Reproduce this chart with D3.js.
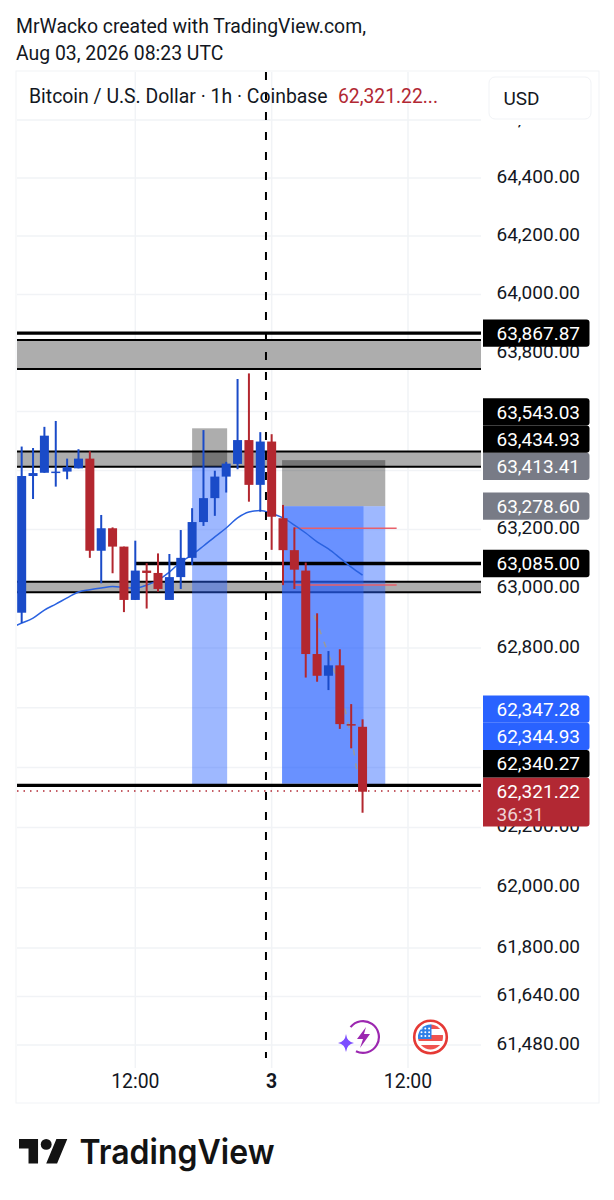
<!DOCTYPE html>
<html><head><meta charset="utf-8">
<script src="https://cdn.jsdelivr.net/npm/d3@7"></script>
<style>html,body{margin:0;padding:0;background:#fff}svg{display:block;font-family:Roboto,sans-serif}</style>
</head><body><svg id="c" width="614" height="1200"></svg>
<script>
const titleLines=["MrWacko created with TradingView.com,","Aug 03, 2026 08:23 UTC"];
const legendName="Bitcoin / U.S. Dollar · 1h · Coinbase";
const legendPrice="62,321.22...";
const currency="USD";
const firstCandle="2026-08-02T02:00:00Z";
const opens =[62919,63381,63392,63396,63396,63407,63440,63128,63204,63142,62962,63061,63053,62962,63039,63104,63225,63306,63379,63422,63503,63351,63498,63238,63130,63061,62780,62707,62742,62545,62536];
const highs =[63481,63476,63548,63568,63440,63472,63465,63249,63207,63142,63162,63086,63119,63117,63198,63272,63537,63399,63429,63711,63730,63530,63523,63283,63207,63088,62917,62790,62796,62612,62561];
const lows  =[62884,63303,63392,63345,63370,63407,63104,63018,63052,62921,62962,62933,62990,62984,62999,63080,63212,63246,63325,63404,63294,63260,63131,63012,62999,62701,62687,62659,62529,62464,62249];
const closes=[63381,63391,63518,63396,63411,63440,63128,63204,63142,62962,63061,63053,62999,63039,63104,63225,63306,63379,63423,63503,63351,63498,63243,63130,63064,62780,62707,62742,62545,62541,62319];
const emaStart="2026-08-02T01:00:00Z";
const emaValues=[62868,62884,62901,62928,62948,62969,62989,62996,63002,63007,63004,63002,63012,63029,63056,63090,63114,63144,63175,63205,63239,63259,63264,63254,63239,63215,63188,63158,63134,63104,63073,63046];
const hLines=[63867.87,62340.27];
const midLine={from:"2026-08-02T12:00:00Z",value:63085};
const bands=[[63844,63745],[63464,63412],[63023,62988]];
const priceTicks=[64600,64400,64200,64000,63800,63600,63400,63200,63000,62800,62600,62400,62200,62000,61800,61640,61480];
const timeTicks=[["2026-08-02T12:00:00Z","12:00",400],["2026-08-03T00:00:00Z","3",700],["2026-08-03T12:00:00Z","12:00",400]];
const crossTime="2026-08-02T23:30:00Z";
const grayBoxes=[{t0:"2026-08-02T17:00:00Z",t1:"2026-08-02T20:05:00Z",top:63543.03,bottom:63413.41},
                 {t0:"2026-08-03T00:55:00Z",t1:"2026-08-03T10:00:00Z",top:63434.93,bottom:63278.6}];
const blueBoxes=[{t0:"2026-08-02T17:00:00Z",t1:"2026-08-02T20:05:00Z",top:63413.41,bottom:62340.27},
                 {t0:"2026-08-03T00:55:00Z",t1:"2026-08-03T10:00:00Z",top:63278.6,bottom:62344.93},
                 {t0:"2026-08-03T00:55:00Z",t1:"2026-08-03T08:05:00Z",top:63278.6,bottom:62347.28}];
const redLines=[{t0:"2026-08-03T02:00:00Z",t1:"2026-08-03T11:00:00Z",v:63204},{t0:"2026-08-03T02:00:00Z",t1:"2026-08-03T11:00:00Z",v:63012}];
const trendTimes=["2026-08-03T03:45:00Z","2026-08-03T05:00:00Z","2026-08-03T06:05:00Z","2026-08-03T07:10:00Z","2026-08-03T07:30:00Z"];
const trendValues=[62910,62780,62660,62470,62390];
const priceLabels=[
 {v:63867.87,c:"#000000"},{v:63543.03,c:"#000000"},{v:63434.93,c:"#000000"},{v:63413.41,c:"#787b86"},
 {v:63278.60,c:"#787b86"},{v:63085.00,c:"#000000"},{v:62347.28,c:"#2962ff"},{v:62344.93,c:"#2962ff"},
 {v:62340.27,c:"#000000"},{v:62321.22,c:"#b22833",sub:"36:31"}];
const lastPrice=62321.22;

const svg=d3.select("#c");
const y=d3.scaleLog().domain([61480,64400]).range([1045,178]);
const x=d3.scaleUtc().domain([new Date("2026-08-02T12:00:00Z"),new Date("2026-08-03T12:00:00Z")]).range([135.3,408]);
const hour=3600000, t0=+new Date(firstCandle);
const L=17,R=481,T=72,B=1068;
const fmt=d3.format(",.2f");
const up="#1a4bc8",down="#b3272f";
const gridC="#f1f3f6";
const candles=opens.map((o,i)=>({t:new Date(t0+i*hour),o,h:highs[i],l:lows[i],c:closes[i]}));
const D=s=>new Date(s);

svg.append("defs").append("clipPath").attr("id","plot").append("rect").attr("x",L).attr("y",T).attr("width",R-L).attr("height",B-T);
svg.selectAll(".title").data(titleLines).join("text").attr("x",16).attr("y",(d,i)=>33+i*26.5).attr("font-size",19.4).attr("fill","#131722").text(d=>d);
svg.append("rect").attr("x",16).attr("y",71).attr("width",583).attr("height",1032).attr("fill","none").attr("stroke",gridC);

const plot=svg.append("g").attr("clip-path","url(#plot)");
plot.selectAll(".gh").data(priceTicks).join("line").attr("x1",L).attr("x2",R).attr("y1",d=>y(d)).attr("y2",d=>y(d)).attr("stroke",gridC).attr("stroke-width",1.5);
plot.selectAll(".gv").data(timeTicks).join("line").attr("x1",d=>x(D(d[0]))).attr("x2",d=>x(D(d[0]))).attr("y1",T).attr("y2",B).attr("stroke",gridC).attr("stroke-width",1.5);
bands.forEach(b=>{
 plot.append("rect").attr("x",L).attr("width",R-L).attr("y",y(b[0])).attr("height",y(b[1])-y(b[0])).attr("fill","#adadad");
 b.forEach(v=>plot.append("line").attr("x1",L).attr("x2",R).attr("y1",y(v)).attr("y2",y(v)).attr("stroke","#000").attr("stroke-width",2));
});
plot.selectAll(".gb").data(grayBoxes).join("rect").attr("x",d=>x(D(d.t0))).attr("width",d=>x(D(d.t1))-x(D(d.t0))).attr("y",d=>y(d.top)).attr("height",d=>y(d.bottom)-y(d.top)).attr("fill","rgba(0,0,0,.32)");
plot.selectAll(".bb").data(blueBoxes).join("rect").attr("x",d=>x(D(d.t0))).attr("width",d=>x(D(d.t1))-x(D(d.t0))).attr("y",d=>y(d.top)).attr("height",d=>y(d.bottom)-y(d.top)).attr("fill","rgba(41,98,255,.45)");
hLines.forEach(v=>plot.append("line").attr("x1",L).attr("x2",R).attr("y1",y(v)).attr("y2",y(v)).attr("stroke","#000").attr("stroke-width",3.2));
plot.append("line").attr("x1",x(D(midLine.from))).attr("x2",R).attr("y1",y(midLine.value)).attr("y2",y(midLine.value)).attr("stroke","#000").attr("stroke-width",3.4);
plot.selectAll(".rl").data(redLines).join("line").attr("x1",d=>x(D(d.t0))).attr("x2",d=>x(D(d.t1))).attr("y1",d=>y(d.v)).attr("y2",d=>y(d.v)).attr("stroke","#e8606a").attr("stroke-width",1.5);
plot.append("line").attr("x1",L).attr("x2",R).attr("y1",y(lastPrice)).attr("y2",y(lastPrice)).attr("stroke","#b22833").attr("stroke-width",1.5).attr("stroke-dasharray","1.5 5");
const tl=trendTimes.map((t,i)=>[x(D(t)),y(trendValues[i])]);
plot.append("path").attr("d",d3.line()(tl)).attr("fill","none").attr("stroke","#9a9a9a").attr("stroke-width",1.5).attr("stroke-dasharray","6 8");
plot.append("path").datum(emaValues).attr("d",d3.line().x((d,i)=>x(new Date(+new Date(emaStart)+i*hour))).y(d=>y(d)).curve(d3.curveMonotoneX)).attr("fill","none").attr("stroke","#2a62e0").attr("stroke-width",1.5);
const cg=plot.selectAll(".cd").data(candles).join("g");
cg.append("line").attr("x1",d=>x(d.t)).attr("x2",d=>x(d.t)).attr("y1",d=>y(d.h)).attr("y2",d=>y(d.l)).attr("stroke",d=>d.c>=d.o?up:down).attr("stroke-width",2);
cg.append("rect").attr("x",d=>x(d.t)-4.5).attr("width",9).attr("y",d=>y(Math.max(d.o,d.c))).attr("height",d=>Math.max(1.5,Math.abs(y(d.o)-y(d.c)))).attr("fill",d=>d.c>=d.o?up:down);
svg.append("line").attr("x1",x(D(crossTime))).attr("x2",x(D(crossTime))).attr("y1",T).attr("y2",B-10).attr("stroke","#000").attr("stroke-width",2).attr("stroke-dasharray","8 12");
svg.append("text").attr("x",29).attr("y",102.5).attr("font-size",19.4).attr("fill","#131722").text(legendName);
svg.append("text").attr("x",338).attr("y",102.5).attr("font-size",19.3).attr("fill","#b22833").text(legendPrice);
svg.selectAll(".pt").data(priceTicks).join("text").attr("x",496.5).attr("y",d=>y(d)-2).attr("dy","0.35em").attr("font-size",19).attr("fill","#131722").text(d=>fmt(d));
svg.append("rect").attr("x",483).attr("y",73).attr("width",114).attr("height",52).attr("fill","#fff");
svg.append("rect").attr("x",489).attr("y",77).attr("width",102).attr("height",42).attr("rx",6).attr("fill","#fff").attr("stroke",gridC);
svg.append("text").attr("x",503.5).attr("y",104.5).attr("font-size",19).attr("fill","#131722").text(currency);
svg.selectAll(".tt").data(timeTicks).join("text").attr("x",d=>x(D(d[0]))).attr("y",1087.5).attr("text-anchor","middle").attr("font-size",19.4).attr("font-weight",d=>d[2]).attr("fill","#131722").text(d=>d[1]);
const lh=27.3;
let floor=Infinity;
const placed=[...priceLabels].sort((a,b)=>a.v-b.v).map(d=>{
  const h=d.sub?49:lh, cy=y(d.v);
  let top=cy-lh/2;
  if(top+h>floor) top=floor-h;
  floor=top;
  return {...d,top,h};
});
const lg=svg.selectAll(".lb").data(placed).join("g");
lg.append("path").attr("d",d=>{const a=483,b=589.5,r=3,t=d.top,e=d.top+d.h;return `M${a},${t}H${b-r}Q${b},${t} ${b},${t+r}V${e-r}Q${b},${e} ${b-r},${e}H${a}Z`}).attr("fill",d=>d.c);
lg.append("text").attr("x",496.5).attr("y",d=>d.top+lh/2).attr("dy","0.35em").attr("font-size",19).attr("fill","#fff").text(d=>fmt(d.v));
lg.filter(d=>d.sub).append("text").attr("x",496.5).attr("y",d=>d.top+lh/2+23).attr("dy","0.35em").attr("font-size",19).attr("fill","#fff").attr("fill-opacity",.8).text(d=>d.sub);
const ic=svg.append("g").attr("transform","translate(363,1037)");
ic.append("path").attr("d",d3.arc()({innerRadius:14.8,outerRadius:17,startAngle:-0.9,endAngle:3.6})).attr("fill","#9c27b0");
ic.append("path").attr("d","M3,-10L-6,2H0L-3,11L7,-3H1Z").attr("fill","#9c27b0");
svg.append("path").attr("transform","translate(346,1043)").attr("d","M0,-9Q1,-1 8,0Q1,1 0,9Q-1,1 -8,0Q-1,-1 0,-9Z").attr("fill","#7c4dff");
const fl=svg.append("g").attr("transform","translate(430.5,1037)");
fl.append("circle").attr("r",16.3).attr("fill","#fff").attr("stroke","#e53935").attr("stroke-width",2.6);
fl.append("clipPath").attr("id","fc").append("circle").attr("r",12.5);
const fi=fl.append("g").attr("clip-path","url(#fc)");
fi.append("rect").attr("x",-13).attr("y",-2).attr("width",26).attr("height",6).attr("fill","#ef5350");
fi.append("rect").attr("x",-13).attr("y",8).attr("width",26).attr("height",6).attr("fill","#ef5350");
fi.append("rect").attr("x",0).attr("y",-13).attr("width",13).attr("height",5).attr("fill","#ef5350");
fi.append("rect").attr("x",-13).attr("y",-13).attr("width",14).attr("height",15).attr("fill","#2f80e8");
d3.range(3).forEach(r=>d3.range(3).forEach(c=>fi.append("circle").attr("cx",-9+c*3.8).attr("cy",-8.5+r*3.8).attr("r",1).attr("fill","#fff")));
svg.append("g").attr("transform","translate(19,1133.5) scale(1.36)").call(g=>{
 g.append("path").attr("d","M14 22H7V11H0V4h14v18zM28 22h-8l7.5-18h8L28 22z").attr("fill","#131313");
 g.append("circle").attr("cx",20).attr("cy",8).attr("r",4).attr("fill","#131313");
});
svg.append("text").attr("x",79.5).attr("y",1163.5).attr("font-family","Inter").attr("font-weight",600).attr("font-size",34.5).attr("textLength",195).attr("lengthAdjust","spacingAndGlyphs").attr("fill","#131313").text("TradingView");
</script></body></html>
